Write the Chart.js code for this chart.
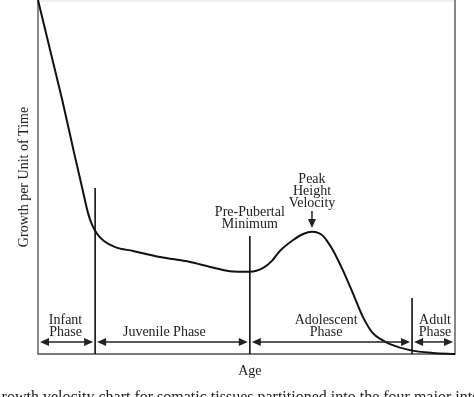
<!DOCTYPE html>
<html>
<head>
<meta charset="utf-8">
<script src="https://cdn.jsdelivr.net/npm/chart.js@4/dist/chart.umd.min.js"></script>
<style>
  html, body { margin: 0; padding: 0; background: #fff; }
  #wrap { width: 474px; height: 397px; position: relative; }
</style>
</head>
<body>
<div id="wrap"><canvas id="growthChart"></canvas></div>
<script>
// growth velocity curve (age 0-100, growth 0-100)
const ageValues = [0, 2.9, 5.8, 8.6, 10.6, 12.0, 13.0, 14.2, 15.8, 18.5, 22.8, 29.3, 36.5, 41.3, 46.0, 50.8, 54.0, 56.1, 58.0, 61.2, 63.6, 65.7, 67.2, 68.4, 69.5, 70.7, 73.1, 75.5, 77.9, 80.3, 82.5, 84.4, 89.2, 94.7, 100];
const growthValues = [100, 85.9, 71.8, 57.1, 46.9, 39.8, 36.4, 33.9, 31.9, 30.2, 29.1, 27.4, 26.0, 24.6, 23.4, 23.2, 24.3, 26.3, 29.1, 32.2, 33.9, 34.5, 34.2, 33.3, 31.6, 29.4, 23.7, 17.2, 10.5, 5.9, 4.0, 2.8, 1.1, 0.3, 0];

// phase boundaries and how high the divider lines reach
const boundaryAges = [13.7, 50.8, 89.7];
const boundaryTops = [46.9, 33.3, 15.8];

const phaseNames = [['Infant', 'Phase'], ['Juvenile Phase'], ['Adolescent', 'Phase'], ['Adult', 'Phase']];
const phaseEdges = [0, 13.7, 50.8, 89.7, 100];
const phaseLabelAges = [6.6, 30.3, 69.1, 95.2];
const arrowLevel = 3.4;

const markerNotes = [
    { age: 50.8, y: 35.6, lines: ['Pre-Pubertal', 'Minimum'], arrow: false },
    { age: 65.7, y: 41.5, lines: ['Peak', 'Height', 'Velocity'], arrow: true }
];

const serif = '"Liberation Serif", "DejaVu Serif", serif';

const dividers = boundaryAges.map((a, i) => ({
    data: [{ x: a, y: 0 }, { x: a, y: boundaryTops[i] }],
    borderColor: '#111',
    borderWidth: 1.6,
    pointRadius: 0,
    clip: false
}));

function arrowHead(ctx, x, y, dir) {
    ctx.beginPath();
    ctx.moveTo(x, y);
    ctx.lineTo(x - dir * 9, y - 4);
    ctx.lineTo(x - dir * 9, y + 4);
    ctx.closePath();
    ctx.fill();
}

const decorPlugin = {
    id: 'decor',
    beforeDatasetsDraw(chart) {
        const { ctx, chartArea: a } = chart;
        ctx.save();
        ctx.strokeStyle = '#f0f0f0';
        ctx.lineWidth = 2;
        ctx.beginPath();
        ctx.moveTo(a.left, a.top + 1);
        ctx.lineTo(a.right, a.top + 1);
        ctx.stroke();
        ctx.strokeStyle = '#7a7a7a';
        ctx.lineWidth = 1.8;
        ctx.beginPath();
        ctx.moveTo(a.left, a.top);
        ctx.lineTo(a.left, a.bottom);
        ctx.lineTo(a.right, a.bottom);
        ctx.lineTo(a.right, a.top);
        ctx.stroke();
        ctx.restore();
    },
    afterDatasetsDraw(chart) {
        const { ctx, scales: { x, y } } = chart;
        ctx.save();
        ctx.fillStyle = '#222';
        ctx.strokeStyle = '#222';
        ctx.lineWidth = 1.5;
        ctx.font = '14px ' + serif;
        ctx.textAlign = 'center';
        ctx.textBaseline = 'alphabetic';

        // phase arrows and names
        const ay = y.getPixelForValue(arrowLevel);
        for (let i = 0; i < phaseNames.length; i++) {
            const x0 = x.getPixelForValue(phaseEdges[i]) + 2;
            const x1 = x.getPixelForValue(phaseEdges[i + 1]) - 2;
            ctx.beginPath();
            ctx.moveTo(x0 + 4, ay);
            ctx.lineTo(x1 - 4, ay);
            ctx.stroke();
            arrowHead(ctx, x0, ay, -1);
            arrowHead(ctx, x1, ay, 1);
            const lines = phaseNames[i];
            const cx = x.getPixelForValue(phaseLabelAges[i]);
            lines.forEach((t, k) => {
                ctx.fillText(t, cx, ay - 6 - (lines.length - 1 - k) * 12);
            });
        }

        // notes above the minimum and the peak
        markerNotes.forEach(n => {
            const cx = x.getPixelForValue(n.age);
            const by = y.getPixelForValue(n.y);
            n.lines.forEach((t, k) => {
                ctx.fillText(t, cx, by - (n.lines.length - 1 - k) * 12);
            });
            if (n.arrow) {
                const top = by + 4;
                const tip = y.getPixelForValue(35.6);
                ctx.beginPath();
                ctx.moveTo(cx, top);
                ctx.lineTo(cx, tip - 6);
                ctx.stroke();
                ctx.beginPath();
                ctx.moveTo(cx, tip);
                ctx.lineTo(cx - 4, tip - 9);
                ctx.lineTo(cx + 4, tip - 9);
                ctx.closePath();
                ctx.fill();
            }
        });

        // axis titles
        ctx.fillText('Age', x.getPixelForValue(50.8), 375);
        ctx.save();
        ctx.translate(28, 177);
        ctx.rotate(-Math.PI / 2);
        ctx.fillText('Growth per Unit of Time', 0, 0);
        ctx.restore();

        // caption, cut by the bottom of the picture
        ctx.textAlign = 'left';
        ctx.font = '16px ' + serif;
        ctx.fillText('Growth velocity chart for somatic tissues partitioned into the four major intervals', -10, 402);
        ctx.restore();
    }
};

new Chart(document.getElementById('growthChart'), {
    type: 'line',
    data: {
        datasets: [{
            data: ageValues.map((a, i) => ({ x: a, y: growthValues[i] })),
            borderColor: '#111',
            borderWidth: 2,
            pointRadius: 0,
            cubicInterpolationMode: 'monotone',
            clip: false
        }, ...dividers]
    },
    options: {
        responsive: true,
        maintainAspectRatio: false,
        animation: false,
        layout: { padding: { left: 38, right: 19, top: 0, bottom: 43 } },
        plugins: { legend: { display: false }, tooltip: { enabled: false } },
        scales: {
            x: { type: 'linear', min: 0, max: 100, display: false },
            y: { min: 0, max: 100, display: false }
        }
    },
    plugins: [decorPlugin]
});
</script>
</body>
</html>
